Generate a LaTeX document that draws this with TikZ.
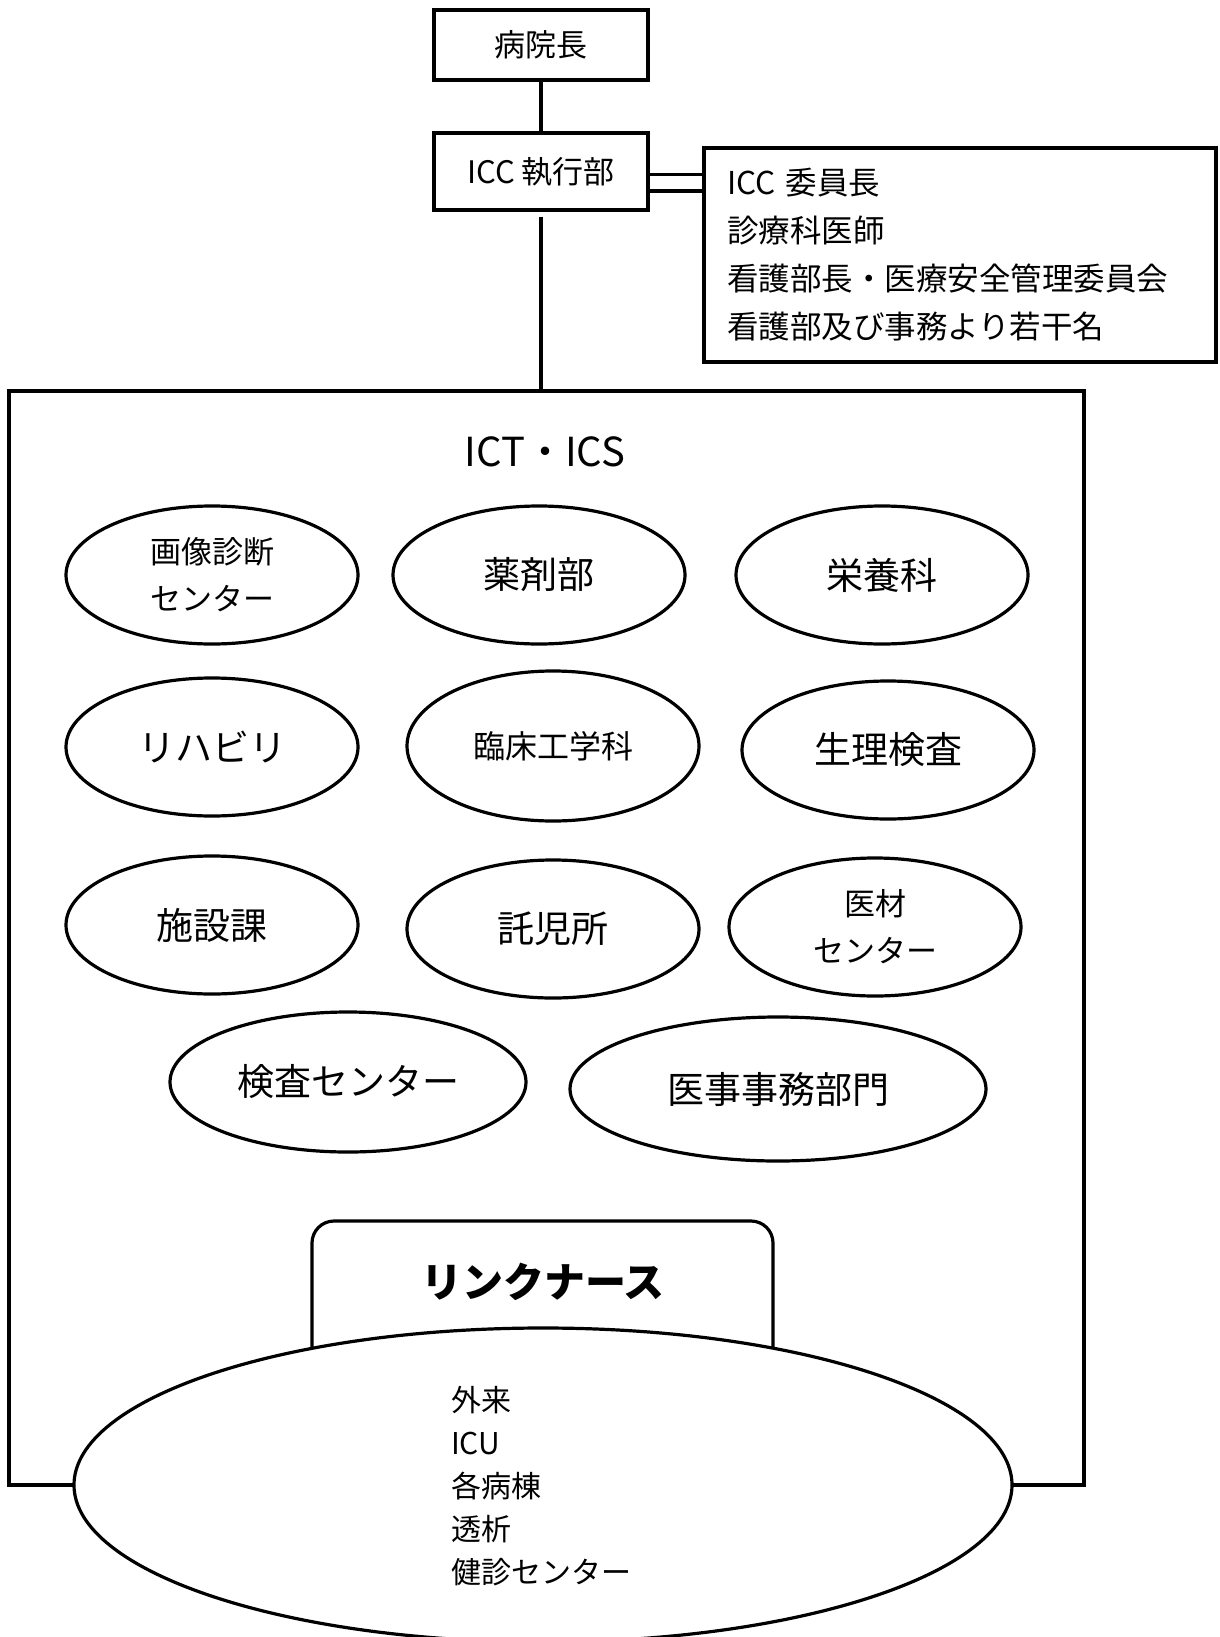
\documentclass[tikz,border=0pt]{standalone}
\usepackage{fontspec}
\setmainfont{Noto Sans CJK JP}
\usepackage{tikz}
\usetikzlibrary{shapes.geometric}
\tikzset{
  base/.style={draw=black, line width=3.2pt, line join=miter},
  box/.style={base, rectangle, inner sep=0pt},
  oval/.style={base, ellipse, inner sep=0pt, minimum width=292pt, minimum height=138pt, align=center},
  lab/.style={font=\fontsize{31}{47}\selectfont},
  big/.style={font=\fontsize{37}{44}\selectfont},
}

\begin{document}
\begin{tikzpicture}[x=1pt, y=-1pt]
  \useasboundingbox (0,0) rectangle (1219,1637);
  % top of the chart
  \node[box, lab, minimum width=214pt, minimum height=70pt] (head) at (541,45) {病院長};
  \node[box, lab, minimum width=214pt, minimum height=77pt] (icc) at (541,171.5) {ICC 執行部};
  \node[box, font=\fontsize{31.5}{48}\selectfont, minimum width=512pt, minimum height=214pt, text width=466pt, align=left] (mem) at (960,255)
    {ICC 委員長\\診療科医師\\看護部長・医療安全管理委員会\\看護部及び事務より若干名};
  \draw[base] (head) -- (icc);
  \coordinate (d1) at ([yshift=-3pt]icc.east);
  \coordinate (d2) at ([yshift=-19.5pt]icc.east);
  \draw[base] (d1) -- (d1 -| mem.west);
  \draw[base] (d2) -- (d2 -| mem.west);
  % ICT frame
  \coordinate (ftl) at (9,391);
  \coordinate (fbr) at (1084,1485);
  \draw[base] (ftl) rectangle (fbr);
  \draw[base] ([yshift=-5pt]icc.south) -- (icc.south |- ftl);
  \node[font=\fontsize{40}{48}\selectfont] (ict) at (545,452) {ICT・ICS};
  % departments
  \node[oval, lab] (img) at (212,575) {画像診断\\センター};
  \node[oval, big] (pharm) at (539,575) {薬剤部};
  \node[oval, big] (nutr) at (882,575) {栄養科};
  \node[oval, big] (reha) at (212,747) {リハビリ};
  \node[oval, font=\fontsize{32}{38}\selectfont, minimum height=150pt] (ce) at (553,746) {臨床工学科};
  \node[oval, big] (phys) at (888,750) {生理検査};
  \node[oval, big] (fac) at (212,925) {施設課};
  \node[oval, big] (nurs) at (553,929) {託児所};
  \node[oval, lab] (mat) at (875,927) {医材\\センター};
  \node[oval, big, minimum width=356pt, minimum height=140pt] (lab) at (348,1082) {検査センター};
  \node[oval, big, minimum width=416pt, minimum height=144pt] (med) at (778,1089) {医事事務部門};
  % link nurses
  \node[base, rectangle, rounded corners=22pt, minimum width=461pt, minimum height=180pt] (link) at (542.5,1311) {};
  \node[font=\bfseries\fontsize{41}{48}\selectfont] (linklab) at (543,1282) {リンクナース};
  \node[base, ellipse, fill=white, minimum width=938pt, minimum height=314pt] (ward) at (543,1485) {};
  \node[font=\fontsize{30}{43}\selectfont, align=left, anchor=west, inner sep=0pt] (wardlab) at (451,1486)
    {外来\\ICU\\各病棟\\透析\\健診センター};
\end{tikzpicture}
\end{document}
